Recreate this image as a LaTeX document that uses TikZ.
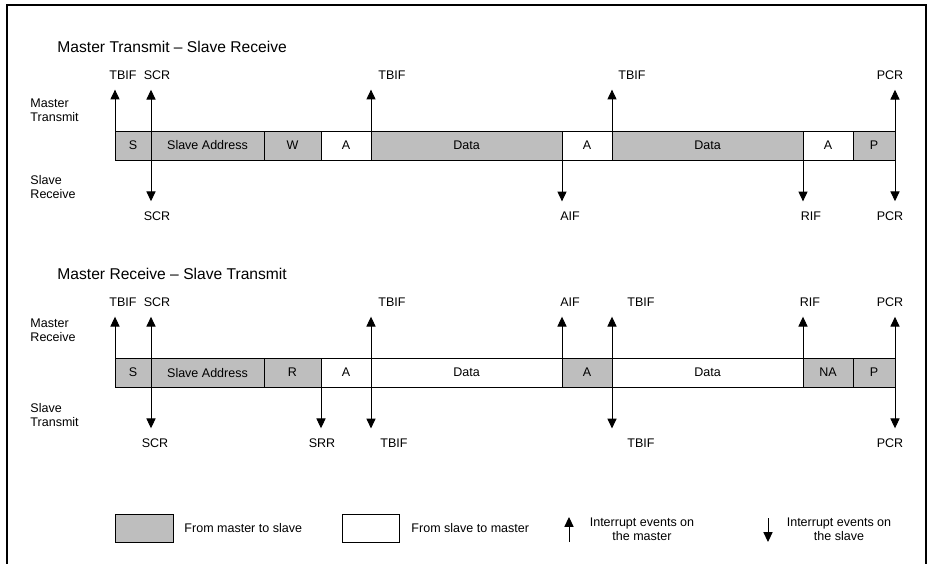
\documentclass[tikz,border=0pt]{standalone}
\usepackage{fontspec}
\setmainfont{Liberation Sans}
\usetikzlibrary{arrows.meta, positioning}

\definecolor{hatch}{RGB}{190,190,190}

\begin{document}
\begin{tikzpicture}[x=0.025cm, y=-0.025cm, >={Triangle[length=7pt, width=6.5pt]}, line width=0.7pt,
  cell/.style={draw, inner sep=0pt, outer sep=0pt, minimum height=0.725cm, font=\fontsize{8.9}{10}\selectfont},
  m2s/.style={cell, fill=hatch},
  s2m/.style={cell, fill=white},
  cellw/.style={minimum width=#1*0.025cm},
  lbl/.style={inner sep=0pt, font=\fontsize{8.9}{10}\selectfont},
  side/.style={lbl, anchor=west, align=left},
  ttl/.style={inner sep=0pt, anchor=west, font=\fontsize{11.1}{13}\selectfont},
  evu/.style={->, shorten >=7pt},
  evd/.style={<->, shorten >=7pt, shorten <=7pt}]
  \useasboundingbox (0,0) rectangle (930,564);
  \draw[line width=1.4pt] (7,564) -- (7,5) -- (926,5) -- (926,564);
  % ===== Master Transmit - Slave Receive =====
  \begin{scope}
    \node[ttl] (ttla) at (57,47) {Master Transmit – Slave Receive};
    \node[side] (mta) at (30,110) {Master\\Transmit};
    \node[side] (sra) at (30,187) {Slave\\Receive};
    \node[m2s, cellw=36, anchor=north west] (sa) at (115,131) {S};
    \node[m2s, cellw=113, right=0pt of sa] (adra) {Slave Address};
    \node[m2s, cellw=57, right=0pt of adra] (wa) {W};
    \node[s2m, cellw=50, right=0pt of wa] (ack1a) {A};
    \node[m2s, cellw=191, right=0pt of ack1a] (dat1a) {Data};
    \node[s2m, cellw=50, right=0pt of dat1a] (ack2a) {A};
    \node[m2s, cellw=191, right=0pt of ack2a] (dat2a) {Data};
    \node[s2m, cellw=50, right=0pt of dat2a] (ack3a) {A};
    \node[m2s, cellw=42, right=0pt of ack3a] (pa) {P};
    \node[lbl] (tbif1a) at (123,75) {TBIF};
    \node[lbl] (scr1a) at (157,75) {SCR};
    \node[lbl] (tbif2a) at (392,75) {TBIF};
    \node[lbl] (tbif3a) at (632,75) {TBIF};
    \node[lbl] (pcr1a) at (890,75) {PCR};
    \node[lbl] (scr2a) at (157,216) {SCR};
    \node[lbl] (aifa) at (570,216) {AIF};
    \node[lbl] (rifa) at (811,216) {RIF};
    \node[lbl] (pcr2a) at (890,216) {PCR};
    \draw[evu] (sa.north west) -- (sa.north west |- tbif1a.south);
    \draw[evd] (adra.north west |- scr1a.south) -- (adra.south west |- scr2a.north);
    \draw[evu] (dat1a.north west) -- (dat1a.north west |- tbif2a.south);
    \draw[evu] (ack2a.south west) -- (ack2a.south west |- aifa.north);
    \draw[evu] (dat2a.north west) -- (dat2a.north west |- tbif3a.south);
    \draw[evu] (ack3a.south west) -- (ack3a.south west |- rifa.north);
    \draw[evd] (pa.north east |- pcr1a.south) -- (pa.south east |- pcr2a.north);
  \end{scope}
  % ===== Master Receive - Slave Transmit =====
  \begin{scope}[yshift=-5.675cm]
    \node[ttl] (ttlb) at (57,47) {Master Receive – Slave Transmit};
    \node[side] (mrb) at (30,103) {Master\\Receive};
    \node[side] (stb) at (30,188) {Slave\\Transmit};
    \node[m2s, cellw=36, anchor=north west] (sb) at (115,131) {S};
    \node[m2s, cellw=113, right=0pt of sb] (adrb) {Slave Address};
    \node[m2s, cellw=57, right=0pt of adrb] (rb) {R};
    \node[s2m, cellw=50, right=0pt of rb] (ack1b) {A};
    \node[s2m, cellw=191, right=0pt of ack1b] (dat1b) {Data};
    \node[m2s, cellw=50, right=0pt of dat1b] (ack2b) {A};
    \node[s2m, cellw=191, right=0pt of ack2b] (dat2b) {Data};
    \node[m2s, cellw=50, right=0pt of dat2b] (nab) {NA};
    \node[m2s, cellw=42, right=0pt of nab] (pb) {P};
    \node[lbl] (tbif1b) at (123,75) {TBIF};
    \node[lbl] (scr1b) at (157,75) {SCR};
    \node[lbl] (tbif2b) at (392,75) {TBIF};
    \node[lbl] (aifb) at (570,75) {AIF};
    \node[lbl] (tbif3b) at (641,75) {TBIF};
    \node[lbl] (rifb) at (810,75) {RIF};
    \node[lbl] (pcr1b) at (890,75) {PCR};
    \node[lbl] (scr2b) at (155,216) {SCR};
    \node[lbl] (srrb) at (322,216) {SRR};
    \node[lbl] (tbif4b) at (394,216) {TBIF};
    \node[lbl] (tbif5b) at (641,216) {TBIF};
    \node[lbl] (pcr2b) at (890,216) {PCR};
    \draw[evu] (sb.north west) -- (sb.north west |- tbif1b.south);
    \draw[evd] (adrb.north west |- scr1b.south) -- (adrb.south west |- scr2b.north);
    \draw[evu] (ack1b.south west) -- (ack1b.south west |- srrb.north);
    \draw[evd] (dat1b.north west |- tbif2b.south) -- (dat1b.south west |- tbif4b.north);
    \draw[evu] (ack2b.north west) -- (ack2b.north west |- aifb.south);
    \draw[evd] (dat2b.north west |- tbif3b.south) -- (dat2b.south west |- tbif5b.north);
    \draw[evu] (nab.north west) -- (nab.north west |- rifb.south);
    \draw[evd] (pb.north east |- pcr1b.south) -- (pb.south east |- pcr2b.north);
  \end{scope}
  % ===== Legend =====
  \node[m2s, cellw=58, minimum height=0.7cm, anchor=north west] (key1) at (115,514) {};
  \node[lbl, anchor=west] (key1t) at (184,528) {From master to slave};
  \node[s2m, cellw=57, minimum height=0.7cm, anchor=north west] (key2) at (342,514) {};
  \node[lbl, anchor=west] (key2t) at (411,528) {From slave to master};
  \node[lbl, align=center] (key3t) at (642,529) {Interrupt events on\\the master};
  \node[lbl, align=center] (key4t) at (839,529) {Interrupt events on\\the slave};
  \coordinate (key3) at (569,542); \draw[->] (key3) -- ++(0,-25);
  \coordinate (key4) at (768,518); \draw[->] (key4) -- ++(0,24);
\end{tikzpicture}
\end{document}
